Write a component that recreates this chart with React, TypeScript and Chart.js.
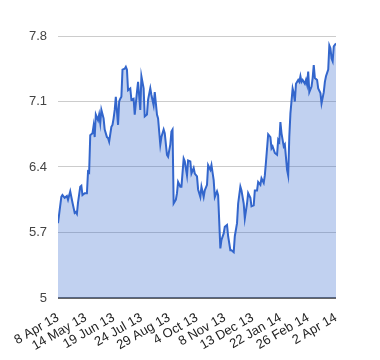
import React, { useEffect, useRef } from "react";
import { Chart, registerables } from "chart.js";

Chart.register(...registerables);

// trading-day index (0..250) of each sampled point
const dayIndex = [
  0, 3, 4, 6, 8, 9, 11, 13, 15, 16, 17, 18, 20, 21, 22, 24, 26, 27, 28, 29,
  31, 32, 33, 34, 36, 37, 38, 39, 41, 42, 44, 45, 46, 48, 49, 50, 51, 52, 54, 55,
  56, 57, 58, 60, 61, 62, 63, 65, 66, 68, 69, 71, 72, 74, 75, 77, 78, 80, 81, 83,
  84, 86, 87, 89, 90, 92, 93, 95, 96, 98, 99, 101, 102, 103, 104, 106, 107, 108, 110, 111,
  113, 114, 116, 117, 119, 120, 122, 123, 125, 126, 128, 129, 131, 132, 134, 135, 137, 138, 140, 141,
  143, 144, 146, 147, 149, 150, 152, 153, 155, 156, 158, 159, 161, 162, 164, 165, 167, 168, 170, 171,
  173, 174, 176, 177, 179, 180, 182, 183, 185, 186, 187, 189, 191, 192, 193, 195, 197, 198, 199, 200,
  201, 203, 204, 206, 207, 208, 209, 211, 212, 213, 214, 216, 217, 218, 219, 220, 222, 223, 224, 225,
  226, 228, 229, 230, 231, 233, 234, 236, 237, 239, 240, 241, 243, 244, 245, 246, 247, 248, 250,
];

const prices = [
  5.8, 6.08, 6.1, 6.07, 6.09, 6.05, 6.14, 6.02, 5.91, 5.92, 5.9, 6.02, 6.19, 6.2, 6.1, 6.12, 6.12, 6.35, 6.34, 6.74,
  6.76, 6.84, 6.72, 6.96, 6.9, 6.96, 6.87, 7.01, 6.92, 6.8, 6.72, 6.71, 6.67, 6.83, 6.85, 6.92, 7.01, 7.15, 6.85, 7.1,
  7.13, 7.15, 7.44, 7.45, 7.47, 7.44, 7.22, 7.24, 7.12, 7.13, 6.96, 7.2, 7.31, 7.01, 7.37, 7.24, 6.94, 6.96, 7.12, 7.24,
  7.17, 7.06, 7.2, 6.96, 6.92, 6.64, 6.72, 6.8, 6.76, 6.53, 6.51, 6.64, 6.78, 6.8, 6.01, 6.05, 6.12, 6.24, 6.19, 6.19,
  6.49, 6.46, 6.31, 6.47, 6.46, 6.33, 6.39, 6.33, 6.3, 6.16, 6.08, 6.19, 6.08, 6.15, 6.21, 6.42, 6.37, 6.42, 6.26, 6.08,
  6.14, 6.1, 5.53, 5.62, 5.69, 5.76, 5.78, 5.66, 5.51, 5.51, 5.49, 5.66, 5.8, 6.01, 6.19, 6.15, 6.01, 5.85, 6.01, 6.12,
  6.07, 5.98, 5.99, 6.15, 6.15, 6.24, 6.21, 6.28, 6.23, 6.31, 6.45, 6.75, 6.72, 6.6, 6.62, 6.55, 6.53, 6.69, 6.67, 6.88,
  6.76, 6.62, 6.64, 6.37, 6.31, 6.72, 6.97, 7.24, 7.19, 7.1, 7.29, 7.33, 7.31, 7.37, 7.31, 7.33, 7.29, 7.33, 7.28, 7.42,
  7.2, 7.26, 7.35, 7.49, 7.35, 7.33, 7.24, 7.19, 7.08, 7.2, 7.31, 7.37, 7.44, 7.7, 7.67, 7.56, 7.53, 7.69, 7.72,
];

const xTickIndex = [0, 25, 50, 75, 100, 125, 150, 175, 200, 225, 250];
const xTickLabels = [
  "8 Apr 13", "14 May 13", "19 Jun 13", "24 Jul 13", "29 Aug 13", "4 Oct 13",
  "8 Nov 13", "13 Dec 13", "22 Jan 14", "26 Feb 14", "2 Apr 14",
];
const yTicks = [5, 5.7, 6.4, 7.1, 7.8];

export default function App() {
  const ref = useRef<HTMLCanvasElement | null>(null);

  useEffect(() => {
    if (!ref.current) return;
    const font = "Arial, 'Liberation Sans', sans-serif";
    const chart = new Chart(ref.current, {
      type: "line",
      data: {
        datasets: [
          {
            data: dayIndex.map((d, i) => ({ x: d, y: prices[i] })),
            borderColor: "#3366cc",
            borderWidth: 2,
            backgroundColor: "rgba(51,102,204,0.3)",
            fill: "start",
            pointRadius: 0,
            tension: 0,
          },
        ],
      },
      options: {
        responsive: false,
        animation: false,
        layout: { padding: { left: 0, top: 36, right: 44, bottom: 0 } },
        plugins: { legend: { display: false }, tooltip: { enabled: false } },
        scales: {
          x: {
            type: "linear",
            min: 0,
            max: 250,
            grid: { display: false },
            border: { display: false },
            afterBuildTicks: (axis: any) => {
              axis.ticks = xTickIndex.map((v) => ({ value: v }));
            },
            afterFit: (axis: any) => {
              axis.height = 62;
            },
            ticks: {
              autoSkip: false,
              minRotation: 30,
              maxRotation: 30,
              padding: 4,
              color: "#222",
              font: { family: font, size: 13 },
              callback: (v: any) => {
                const i = xTickIndex.indexOf(Number(v));
                return i >= 0 ? xTickLabels[i] : "";
              },
            },
          },
          y: {
            min: 5,
            max: 7.8,
            border: { display: false },
            grid: {
              color: (ctx: any) => (ctx.tick && ctx.tick.value === 5 ? "#666" : "#cccccc"),
              lineWidth: (ctx: any) => (ctx.tick && ctx.tick.value === 5 ? 2 : 1),
              drawTicks: false,
            },
            afterBuildTicks: (axis: any) => {
              axis.ticks = yTicks.map((v) => ({ value: v }));
            },
            afterFit: (axis: any) => {
              axis.width = 58;
            },
            ticks: {
              padding: 11,
              color: "#444",
              font: { family: font, size: 13 },
              callback: (v: any) => String(v),
            },
          },
        },
      },
    });
    return () => chart.destroy();
  }, []);

  return (
    <div style={{ position: "absolute", left: 0, top: 0, width: 380, height: 360, background: "#fff" }}>
      <canvas ref={ref} width={380} height={360} />
    </div>
  );
}
